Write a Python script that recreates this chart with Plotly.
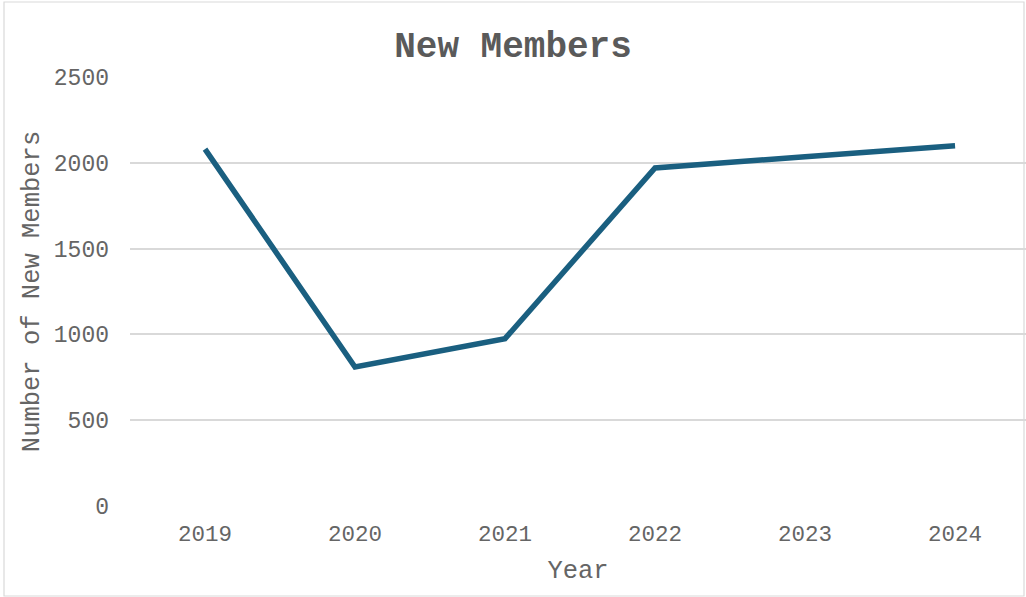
import plotly.graph_objects as go

years = ["2019", "2020", "2021", "2022", "2023", "2024"]
new_members = [2080, 810, 975, 1970, 2035, 2100]
y_ticks = [0, 500, 1000, 1500, 2000, 2500]

FONT = "Liberation Mono, Courier New, monospace"
GREY = "#656565"

fig = go.Figure()
fig.add_trace(go.Scatter(
    x=years, y=new_members, mode="lines",
    line=dict(color="#1a5f80", width=5.5),
    hoverinfo="x+y",
))

fig.update_layout(
    width=1026, height=597,
    margin=dict(l=130, r=0, t=77, b=91),
    paper_bgcolor="white", plot_bgcolor="white",
    showlegend=False,
    title=dict(text="<b>New Members</b>", x=0.5, xref="container", xanchor="center",
               y=1 - 44 / 597, yanchor="middle",
               font=dict(family=FONT, size=36, color="#5a5a5a")),
    font=dict(family=FONT, color=GREY),
)
fig.update_xaxes(
    type="category", range=[-0.5, 5.473],
    showgrid=False, showline=False, zeroline=False,
    ticks="", tickfont=dict(family=FONT, size=22.5, color=GREY),
    ticklabelstandoff=11,
    title=dict(text="Year", font=dict(family=FONT, size=25.5, color=GREY), standoff=13),
)
fig.update_yaxes(
    range=[0, 2500], tickvals=y_ticks,
    showgrid=True, gridcolor="#d9d9d9", gridwidth=1.5,
    zeroline=False, showline=False, ticks="",
    tickfont=dict(family=FONT, size=23, color=GREY),
    ticklabelstandoff=20,
    title=dict(text="Number of New Members", font=dict(family=FONT, size=25.5, color=GREY), standoff=6),
)
fig.add_shape(type="rect", xref="paper", yref="paper",
              x0=(4 - 130) / 896, x1=(1024 - 130) / 896,
              y0=(506 - 596) / 429, y1=(506 - 2) / 429,
              line=dict(color="#d9d9d9", width=1.2), fillcolor="rgba(0,0,0,0)", layer="below")

fig.write_html("out.html")
